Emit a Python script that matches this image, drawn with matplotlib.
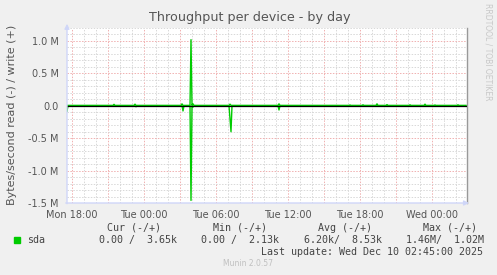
import numpy as np
import matplotlib
matplotlib.use('Agg')
import matplotlib.pyplot as plt
from matplotlib.ticker import FuncFormatter, MultipleLocator

# time axis in hours counted from Mon 00:00
t_start = 17 + 35 / 60      # Mon 17:35
t_end = 50 + 55 / 60        # Wed 02:55
tick_hours = [18, 24, 30, 36, 42, 48]
tick_labels = ['Mon 18:00', 'Tue 00:00', 'Tue 06:00', 'Tue 12:00', 'Tue 18:00', 'Wed 00:00']

# sda write (+), bytes/s: quiet level plus the visible bumps
write_base = 6.0e3
write_hours = [21.50, 23.25, 27.20, 27.92, 28.08, 31.17, 35.25,
               41.20, 42.25, 43.40, 44.25, 46.20, 47.40, 48.25, 50.20]
write_vals = [22e3, 25e3, 30e3, 1.02e6, 30e3, 25e3, 30e3,
              12e3, 15e3, 30e3, 18e3, 15e3, 25e3, 12e3, 15e3]

# sda read (-), bytes/s
read_base = 0.0
read_hours = [17.58, 23.33, 27.25, 27.92, 28.08, 31.17, 31.25, 35.28]
read_vals = [85e3, 15e3, 80e3, 1.46e6, 20e3, 200e3, 400e3, 65e3]

legend_header = ['Cur (-/+)', 'Min (-/+)', 'Avg (-/+)', 'Max (-/+)']
legend_values = ['0.00 /  3.65k', '0.00 /  2.13k', '6.20k/  8.53k', '1.46M/  1.02M']
last_update = 'Last update: Wed Dec 10 02:45:00 2025'

# 5 minute samples
t = np.arange(t_start, t_end, 5 / 60)
write = np.full(len(t), write_base)
read = np.full(len(t), read_base)
for h, v in zip(write_hours, write_vals):
    write[int(round((h - t_start) * 12))] = v
for h, v in zip(read_hours, read_vals):
    read[int(round((h - t_start) * 12))] = v

W, H = 497, 275
fig = plt.figure(figsize=(W / 100, H / 100), dpi=100, facecolor='#f0f0f0')
ax = fig.add_axes([67 / W, 1 - 203 / H, 400 / W, 175 / H])
ax.set_facecolor('white')

green = '#00cc00'
ax.plot(t, write, color=green, lw=1.0, zorder=2)
ax.plot(t, -read, color=green, lw=1.0, zorder=2)
ax.axhline(0, color='black', lw=0.9, zorder=3)

ax.set_xlim(t_start, t_start + 400 / 12)
ax.set_ylim(-1.5e6, 1.2e6)

# grid: minor 1h / 0.1M grey, major 3h / 0.5M red
ax.xaxis.set_major_locator(MultipleLocator(3))
ax.xaxis.set_minor_locator(MultipleLocator(1))
ax.yaxis.set_major_locator(MultipleLocator(0.5e6))
ax.yaxis.set_minor_locator(MultipleLocator(0.1e6))
ax.grid(which='minor', color='#d8d8d8', lw=0.7, ls=(0, (1.5, 1.5)), zorder=0)
ax.grid(which='major', color='#f0b0b0', lw=0.7, ls=(0, (1.5, 1.5)), zorder=1)

labels = dict(zip(tick_hours, tick_labels))
ax.xaxis.set_major_formatter(FuncFormatter(lambda v, p: labels.get(int(round(v)), '')))


def mfmt(v, p):
    if abs(v) < 1:
        return '0.0'
    return f'{v / 1e6:.1f} M'


ax.yaxis.set_major_formatter(FuncFormatter(mfmt))
ax.tick_params(which='both', length=0, colors='#555555', labelsize=7)
ax.tick_params(axis='x', pad=5)
ax.tick_params(axis='y', pad=6)

for s in ['top', 'left', 'bottom']:
    ax.spines[s].set_visible(False)
ax.spines['right'].set_color('#999999')
ax.spines['right'].set_linewidth(1.0)

# axes with arrows
axis_col = '#cfd6f8'
ax.annotate('', xy=(0, 1.04), xytext=(0, -0.02), xycoords='axes fraction',
            arrowprops=dict(arrowstyle='-|>', color=axis_col, lw=1.0, mutation_scale=7))
ax.annotate('', xy=(1.012, 0), xytext=(-0.01, 0), xycoords='axes fraction',
            arrowprops=dict(arrowstyle='-|>', color=axis_col, lw=1.0, mutation_scale=7))

fig.text(250 / W, 1 - 18 / H, 'Throughput per device - by day', ha='center', va='center',
         fontsize=9.2, color='#555555')
fig.text(12 / W, 1 - 115 / H, 'Bytes/second read (-) / write (+)', rotation=90,
         ha='center', va='center', fontsize=8, color='#555555')
fig.text(488 / W, 1 - 52 / H, 'RRDTOOL / TOBI OETIKER', rotation=270,
         ha='center', va='center', fontsize=5.5, color='#c8c8c8')

# legend block
mono = 'DejaVu Sans Mono'
tc = '#444444'
for x, s in zip([107, 213, 318, 423], legend_header):
    fig.text(x / W, 1 - 228 / H, s, family=mono, fontsize=7.2, color=tc, va='center')
fig.patches.append(plt.Rectangle((14 / W, 1 - 243 / H), 6 / W, 6 / H, color=green,
                                  transform=fig.transFigure, figure=fig))
fig.text(27 / W, 1 - 240 / H, 'sda', family=mono, fontsize=7.2, color=tc, va='center')
for x, s in zip([99, 201, 304, 406], legend_values):
    fig.text(x / W, 1 - 240 / H, s, family=mono, fontsize=7.2, color=tc, va='center')
fig.text(483 / W, 1 - 252 / H, last_update, family=mono, fontsize=7.2, color=tc,
         va='center', ha='right')
fig.text(248 / W, 1 - 264 / H, 'Munin 2.0.57', fontsize=5.5, color='#c0c0c0',
         ha='center', va='center')

fig.savefig('out.png', dpi=100, facecolor=fig.get_facecolor())
